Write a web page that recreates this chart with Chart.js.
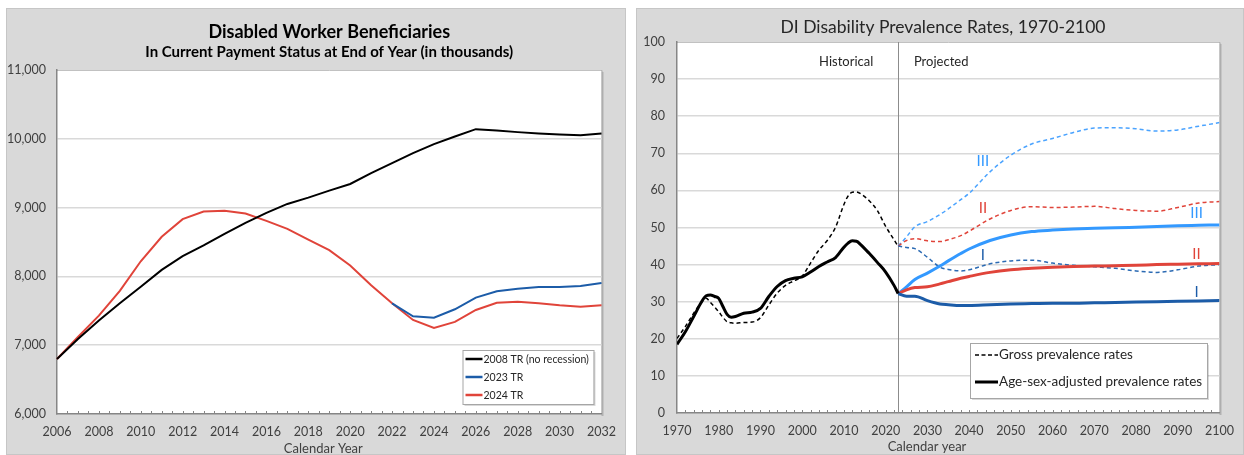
<!DOCTYPE html>
<html>
<head>
<meta charset="utf-8">
<script src="https://cdn.jsdelivr.net/npm/chart.js@4.4.1/dist/chart.umd.min.js"></script>
<style>
  body { margin: 0; background: #fff; width: 1244px; height: 455px; position: relative; overflow: hidden; }
  .panel { position: absolute; top: 8px; height: 447px; background: #d9d9d9; box-shadow: inset 0 0 0 1px #c6c6c6; }
  #leftPanel { left: 6px; width: 620px; }
  #rightPanel { left: 636px; width: 608px; }
  canvas { position: absolute; left: 0; top: 0; }
</style>
</head>
<body>
<div class="panel" id="leftPanel"><canvas id="beneCanvas" width="620" height="447"></canvas></div>
<div class="panel" id="rightPanel"><canvas id="prevCanvas" width="608" height="447"></canvas></div>
<script>
// ---- Disabled worker beneficiaries (thousands) ----
const beneYears = [2006, 2007, 2008, 2009, 2010, 2011, 2012, 2013, 2014, 2015, 2016, 2017, 2018, 2019,
  2020, 2021, 2022, 2023, 2024, 2025, 2026, 2027, 2028, 2029, 2030, 2031, 2032];
const tr2008 = [6800, 7090, 7360, 7610, 7850, 8095, 8295, 8450, 8618, 8778, 8923, 9053, 9145, 9246,
  9343, 9502, 9647, 9792, 9923, 10034, 10140, 10120, 10097, 10077, 10063, 10053, 10077];
const tr2023 = [null, null, null, null, null, null, null, null, null, null, null, null, null, null,
  null, null, 7609, 7420, 7400, 7522, 7691, 7783, 7821, 7845, 7845, 7860, 7903];
const tr2024 = [6800, 7120, 7430, 7790, 8220, 8576, 8832, 8943, 8955, 8913, 8807, 8691, 8536, 8382,
  8159, 7870, 7609, 7367, 7251, 7338, 7512, 7618, 7633, 7609, 7580, 7560, 7580];
const beneTicks = [6000, 7000, 8000, 9000, 10000, 11000];

// ---- DI prevalence rates (per 1,000 insured) ----
const histYears = [1970, 1972, 1974, 1976, 1977, 1978, 1979, 1980, 1981, 1982, 1983, 1984, 1986, 1988,
  1990, 1992, 1994, 1996, 1998, 2000, 2002, 2004, 2006, 2008, 2010, 2011, 2012, 2013, 2014, 2016,
  2018, 2020, 2022, 2023];
const histGross = [20.1, 23.3, 26.9, 30.0, 30.9, 29.8, 28.6, 27.3, 25.8, 24.6, 24.3, 24.2, 24.4, 24.5,
  25.7, 29.1, 32.3, 34.4, 35.6, 36.9, 40.4, 43.9, 46.5, 50.1, 56.2, 58.5, 59.5, 59.6, 59.1, 57.3,
  54.6, 50.3, 46.7, 44.9];
const histAdjusted = [18.5, 21.9, 26.0, 30.2, 31.6, 31.8, 31.4, 30.9, 28.7, 26.6, 25.8, 26.0, 26.9, 27.2,
  28.2, 31.4, 34.1, 35.7, 36.3, 36.7, 38.0, 39.5, 40.7, 41.9, 44.7, 45.8, 46.4, 46.3, 45.4, 43.1,
  40.6, 38.0, 34.4, 32.2];

const projYears = [2023, 2025, 2027, 2030, 2033, 2035, 2038, 2040, 2045, 2050, 2055, 2060, 2065, 2070,
  2075, 2080, 2085, 2090, 2095, 2100];
const grossI = [45.0, 44.6, 44.3, 42.0, 39.3, 38.7, 38.3, 38.6, 40.2, 41.0, 41.2, 40.4, 39.8, 39.4,
  39.0, 38.3, 37.9, 38.6, 39.6, 40.0];
const grossII = [45.0, 46.5, 47.0, 46.4, 46.2, 46.7, 47.8, 49.0, 52.3, 54.6, 55.6, 55.4, 55.5, 55.7,
  55.1, 54.6, 54.4, 55.4, 56.6, 57.0];
const grossIII = [45.0, 47.5, 50.2, 51.6, 53.5, 55.0, 57.5, 59.2, 65.0, 69.5, 72.5, 74.0, 75.6, 76.8,
  76.9, 76.6, 76.0, 76.3, 77.3, 78.3];
const adjI = [32.2, 31.5, 31.5, 30.3, 29.4, 29.2, 29.0, 29.0, 29.2, 29.4, 29.5, 29.6, 29.6, 29.7,
  29.8, 29.9, 30.0, 30.1, 30.2, 30.3];
const adjII = [32.2, 33.2, 33.8, 34.0, 34.8, 35.4, 36.3, 36.8, 37.9, 38.6, 39.0, 39.3, 39.5, 39.6,
  39.7, 39.8, 40.0, 40.1, 40.2, 40.3];
const adjIII = [32.2, 34.0, 36.0, 37.7, 39.6, 41.0, 43.0, 44.2, 46.5, 48.0, 48.9, 49.3, 49.6, 49.8,
  49.9, 50.1, 50.3, 50.5, 50.6, 50.7];

const FONT = "Lato, 'Open Sans', sans-serif";
const TEXT = "#404040";
const GRID = "#d9d9d9";
const AXIS = "#868686";
const BLACK = "#000000";
const DARKBLUE = "#1c5ca8";
const RED = "#e0443a";
const LIGHTBLUE = "#3399ff";

const pts = (xs, ys) => xs.map((x, i) => ({ x, y: ys[i] }));

function plotBackground(chart) {
  const ctx = chart.ctx, a = chart.chartArea;
  ctx.save();
  ctx.fillStyle = "rgba(0,0,0,0.18)";
  ctx.fillRect(a.right, a.top + 2, 2, a.bottom - a.top);
  ctx.fillStyle = "#ffffff";
  ctx.fillRect(a.left, a.top, a.right - a.left, a.bottom - a.top);
  ctx.strokeStyle = "#a9a9a9";
  ctx.lineWidth = 1;
  ctx.beginPath();
  ctx.moveTo(a.left, a.top + 0.5);
  ctx.lineTo(a.right + 0.5, a.top + 0.5);
  ctx.lineTo(a.right + 0.5, a.bottom);
  ctx.stroke();
  ctx.restore();
}

function legendBox(ctx, x, y, w, h) {
  ctx.fillStyle = "rgba(0,0,0,0.15)";
  ctx.fillRect(x + 2, y + 2, w, h);
  ctx.fillStyle = "#fff";
  ctx.fillRect(x, y, w, h);
  ctx.strokeStyle = "#a6a6a6";
  ctx.lineWidth = 1;
  ctx.strokeRect(x + 0.5, y + 0.5, w, h);
}

const beneDecor = {
  id: "beneDecor",
  beforeDraw(chart) {
    plotBackground(chart);
  },
  afterDraw(chart) {
    const ctx = chart.ctx, a = chart.chartArea, xs = chart.scales.x;
    const cx = (a.left + a.right) / 2;
    ctx.save();
    ctx.textAlign = "center";
    ctx.textBaseline = "middle";
    ctx.fillStyle = "#000";
    ctx.font = "bold 18px " + FONT;
    ctx.fillText("Disabled Worker Beneficiaries", cx, 24);
    ctx.font = "bold 15px " + FONT;
    ctx.fillText("In Current Payment Status at End of Year (in thousands)", cx, 44);
    ctx.fillStyle = TEXT;
    ctx.font = "13px " + FONT;
    ctx.fillText("Calendar Year", cx - 6, 441);

    // small inward minor ticks
    const step = (xs.getPixelForValue(1) - xs.getPixelForValue(0)) / 2;
    ctx.strokeStyle = AXIS;
    ctx.lineWidth = 1;
    ctx.beginPath();
    for (let px = a.left + step; px < a.right - 1; px += step) {
      ctx.moveTo(Math.round(px) + 0.5, a.bottom);
      ctx.lineTo(Math.round(px) + 0.5, a.bottom - 3);
    }
    ctx.stroke();

    // legend
    const bx = a.right - 139, by = a.bottom - 64, bw = 131, bh = 54;
    legendBox(ctx, bx, by, bw, bh);
    const items = chart.data.datasets;
    ctx.textAlign = "left";
    ctx.font = "10.5px " + FONT;
    items.forEach((d, i) => {
      const ly = by + 9 + i * 18;
      ctx.strokeStyle = d.borderColor;
      ctx.lineWidth = 2.5;
      ctx.beginPath();
      ctx.moveTo(bx + 3, ly);
      ctx.lineTo(bx + 20, ly);
      ctx.stroke();
      ctx.fillStyle = "#262626";
      ctx.fillText(d.label, bx + 21, ly + 0.5);
    });
    ctx.restore();
  }
};

new Chart(document.getElementById("beneCanvas"), {
  type: "line",
  data: {
    labels: beneYears,
    datasets: [
      { label: "2008 TR (no recession)", data: tr2008, borderColor: BLACK, borderWidth: 2 },
      { label: "2023 TR", data: tr2023, borderColor: DARKBLUE, borderWidth: 2 },
      { label: "2024 TR", data: tr2024, borderColor: RED, borderWidth: 2 }
    ]
  },
  options: {
    responsive: false,
    animation: false,
    layout: { padding: { top: 62, right: 19, left: 0, bottom: 0 } },
    elements: { point: { radius: 0 }, line: { tension: 0 } },
    plugins: { legend: { display: false }, tooltip: { enabled: false } },
    scales: {
      x: {
        offset: false,
        grid: { display: false, drawTicks: false },
        border: { color: AXIS, width: 1.5 },
        ticks: {
          autoSkip: false, maxRotation: 0, padding: 10, color: TEXT,
          font: { family: FONT, size: 12.5 },
          callback: (v, i) => (beneYears[i] % 2 === 0 ? String(beneYears[i]) : "")
        },
        afterFit: (s) => { s.height = 41; }
      },
      y: {
        min: beneTicks[0],
        max: beneTicks[beneTicks.length - 1],
        afterBuildTicks: (s) => { s.ticks = beneTicks.map((v) => ({ value: v })); },
        grid: { color: GRID, lineWidth: 1.5, drawTicks: false },
        border: { color: AXIS, width: 1.5 },
        ticks: {
          padding: 11, color: TEXT, font: { family: FONT, size: 12.5 },
          callback: (v) => v.toLocaleString("en-US")
        },
        afterFit: (s) => { s.width = 51; }
      }
    }
  },
  plugins: [beneDecor]
});

// ---- right chart ----
const prevDecor = {
  id: "prevDecor",
  beforeDraw(chart) {
    plotBackground(chart);
  },
  beforeDatasetsDraw(chart) {
    const ctx = chart.ctx, a = chart.chartArea, xs = chart.scales.x;
    const vx = Math.round(xs.getPixelForValue(2023)) + 0.5;
    ctx.save();
    ctx.strokeStyle = "#8c8c8c";
    ctx.lineWidth = 1;
    ctx.beginPath();
    ctx.moveTo(vx, a.top);
    ctx.lineTo(vx, a.bottom);
    ctx.stroke();
    ctx.restore();
  },
  afterDraw(chart) {
    const ctx = chart.ctx, a = chart.chartArea, xs = chart.scales.x, ys = chart.scales.y;
    ctx.save();
    ctx.textAlign = "center";
    ctx.textBaseline = "middle";
    ctx.fillStyle = "#262626";
    ctx.font = "17.5px " + FONT;
    ctx.fillText("DI Disability Prevalence Rates, 1970-2100", 307, 19);
    ctx.fillStyle = TEXT;
    ctx.font = "13px " + FONT;
    ctx.fillText("Calendar year", 291, 439);

    const vx = xs.getPixelForValue(2023);
    const ty = ys.getPixelForValue(94.6);
    ctx.font = "13px " + FONT;
    ctx.fillStyle = "#262626";
    ctx.fillText("Historical", vx - 52, ty);
    ctx.fillText("Projected", vx + 43, ty);

    // alternative labels
    ctx.font = "15px " + FONT;
    const tags = [
      ["III", 2043.3, 67.9, LIGHTBLUE], ["II", 2043.3, 55.3, RED], ["I", 2043.3, 42.6, DARKBLUE],
      ["III", 2094.5, 53.9, LIGHTBLUE], ["II", 2094.5, 42.9, RED], ["I", 2094.5, 32.6, DARKBLUE]
    ];
    tags.forEach(([t, x, y, c]) => {
      ctx.fillStyle = c;
      ctx.fillText(t, xs.getPixelForValue(x), ys.getPixelForValue(y));
    });

    // minor ticks every 2 years
    ctx.strokeStyle = AXIS;
    ctx.lineWidth = 1;
    ctx.beginPath();
    for (let yr = 1972; yr < 2100; yr += 2) {
      const px = Math.round(xs.getPixelForValue(yr)) + 0.5;
      ctx.moveTo(px, a.bottom);
      ctx.lineTo(px, a.bottom - 3);
    }
    ctx.stroke();

    // legend
    const bx = a.left + 293, by = a.bottom - 70, bw = 237, bh = 55;
    legendBox(ctx, bx, by, bw, bh);
    ctx.textAlign = "left";
    ctx.font = "13.5px " + FONT;
    ctx.strokeStyle = "#000";
    ctx.lineWidth = 1.5;
    ctx.setLineDash([4, 2.5]);
    ctx.beginPath();
    ctx.moveTo(bx + 5, by + 12);
    ctx.lineTo(bx + 28, by + 12);
    ctx.stroke();
    ctx.setLineDash([]);
    ctx.lineWidth = 3;
    ctx.beginPath();
    ctx.moveTo(bx + 5, by + 39);
    ctx.lineTo(bx + 28, by + 39);
    ctx.stroke();
    ctx.fillStyle = "#262626";
    ctx.fillText("Gross prevalence rates", bx + 29, by + 12);
    ctx.fillText("Age-sex-adjusted prevalence rates", bx + 29, by + 39);
    ctx.restore();
  }
};

const solid = (label, xs, ys, color) => ({
  label, data: pts(xs, ys), borderColor: color, borderWidth: 3
});
const dashed = (label, xs, ys, color) => ({
  label, data: pts(xs, ys), borderColor: color, borderWidth: 1.5, borderDash: [4, 3]
});

new Chart(document.getElementById("prevCanvas"), {
  type: "line",
  data: {
    datasets: [
      solid("Age-sex-adjusted historical", histYears, histAdjusted, BLACK),
      dashed("Gross historical", histYears, histGross, BLACK),
      solid("Adjusted I", projYears, adjI, DARKBLUE),
      solid("Adjusted II", projYears, adjII, RED),
      solid("Adjusted III", projYears, adjIII, LIGHTBLUE),
      dashed("Gross I", projYears, grossI, "#2b6ab3"),
      dashed("Gross II", projYears, grossII, RED),
      dashed("Gross III", projYears, grossIII, "#4aa3ff")
    ]
  },
  options: {
    responsive: false,
    animation: false,
    layout: { padding: { top: 34, right: 21, left: 0, bottom: 0 } },
    elements: { point: { radius: 0 }, line: { cubicInterpolationMode: "monotone" } },
    plugins: { legend: { display: false }, tooltip: { enabled: false } },
    scales: {
      x: {
        type: "linear", min: 1970, max: 2100,
        grid: { display: false, drawTicks: false },
        border: { color: AXIS, width: 1.5 },
        ticks: {
          stepSize: 10, maxRotation: 0, padding: 10, color: TEXT,
          font: { family: FONT, size: 12.5 },
          callback: (v) => String(v)
        },
        afterFit: (s) => { s.height = 42; }
      },
      y: {
        min: 0, max: 100,
        grid: { color: GRID, lineWidth: 1.5, drawTicks: false },
        border: { color: AXIS, width: 1.5 },
        ticks: { stepSize: 10, padding: 12, color: TEXT, font: { family: FONT, size: 12.5 } },
        afterFit: (s) => { s.width = 41; }
      }
    }
  },
  plugins: [prevDecor]
});
</script>
</body>
</html>
